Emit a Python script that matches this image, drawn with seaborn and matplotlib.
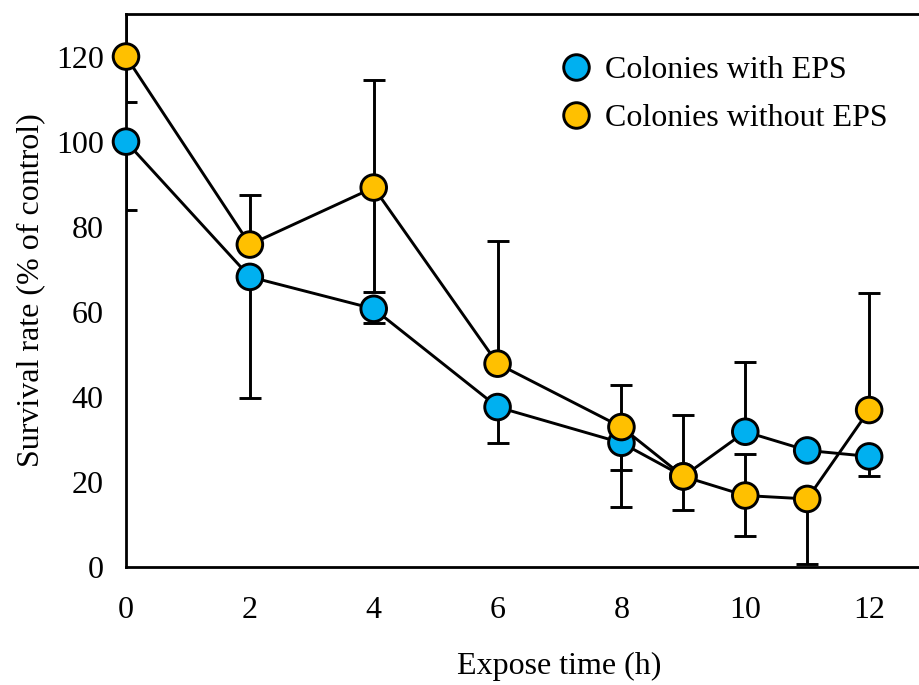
import pandas as pd
import seaborn as sns
import matplotlib.pyplot as plt

# Datos
horas = [0, 2, 4, 6, 8, 9, 10, 11, 12]
con_eps = [100, 68.2, 60.7, 37.6, 29.2, 21.3, 31.8, 27.4, 26.0]
sin_eps = [120, 75.8, 89.2, 47.8, 32.9, 21.3, 16.8, 16.0, 36.9]

# barras de error visibles (inferior, superior)
con_eps_inf = [16, 28.4, 3.3, 8.4, 15.1, 7.9, 0, 0, 4.7]
con_eps_sup = [0, 0, 0, 0, 0, 0, 16.5, 0, 0]
sin_eps_inf = [10.8, 0, 24.5, 0, 10.1, 0, 9.5, 15.3, 0]
sin_eps_sup = [11, 11.6, 25.2, 28.9, 9.9, 14.5, 9.8, 0, 27.5]

nombres = ['Colonies with EPS', 'Colonies without EPS']
colores = ['#00B0F0', '#FFC000']

df = pd.DataFrame({
    'hora': horas + horas,
    'tasa': con_eps + sin_eps,
    'grupo': [nombres[0]] * len(horas) + [nombres[1]] * len(horas),
})

sns.set_theme(style='white')
plt.rcParams['font.family'] = ['Liberation Serif', 'DejaVu Serif']
plt.rcParams['text.color'] = 'black'
plt.rcParams['axes.labelcolor'] = 'black'
plt.rcParams['xtick.color'] = 'black'
plt.rcParams['ytick.color'] = 'black'

fig = plt.figure(figsize=(9.2, 6.85), dpi=100)
ax = fig.add_axes([126 / 920, 118 / 685, (993 - 126) / 920, (567 - 14) / 685])

# Barras de error
for y, inf, sup in [(con_eps, con_eps_inf, con_eps_sup), (sin_eps, sin_eps_inf, sin_eps_sup)]:
    ax.errorbar(horas, y, yerr=[inf, sup], fmt='none', ecolor='black',
                elinewidth=2.1, capsize=8, capthick=2.1, zorder=1)

# Lineas negras
for g in nombres:
    sns.lineplot(data=df[df['grupo'] == g], x='hora', y='tasa', color='black',
                 linewidth=2.1, ax=ax, zorder=2, legend=False)

# Marcadores
sns.scatterplot(data=df, x='hora', y='tasa', hue='grupo', palette=colores,
                s=340, edgecolor='black', linewidth=2.1, ax=ax, zorder=3,
                clip_on=False)

ax.set_xlim(0, 14)
ax.set_ylim(0, 130)
ax.set_xticks(range(0, 13, 2))
ax.set_yticks(range(0, 121, 20))
ax.tick_params(length=0, labelsize=23, colors='black')
ax.tick_params(axis='x', pad=21)
ax.tick_params(axis='y', pad=16)
for s in ax.spines.values():
    s.set_color('black')
    s.set_linewidth(2.0)

ax.set_xlabel('Expose time (h)', fontsize=23, labelpad=19, color='black')
ax.set_ylabel('Survival rate (% of control)', fontsize=23, labelpad=8, color='black')

handles, labels = ax.get_legend_handles_labels()
for h in handles:
    h.set_markersize(18.4)
    h.set_markeredgecolor('black')
    h.set_markeredgewidth(2.1)
leg = ax.legend(handles, labels, loc='upper left', bbox_to_anchor=(560 / 920, 1 - 56 / 685),
                bbox_transform=fig.transFigure, frameon=False, fontsize=23,
                handlelength=1.0, handletextpad=0.4, labelspacing=0.57, borderpad=0,
                borderaxespad=0)
for t in leg.get_texts():
    t.set_color('black')

fig.savefig('out.png', dpi=100)
